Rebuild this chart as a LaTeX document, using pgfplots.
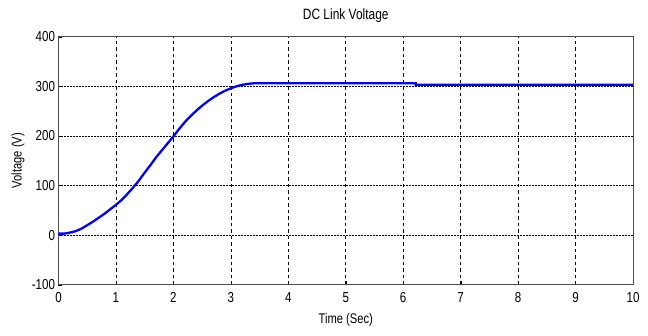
\documentclass[border=0pt]{standalone}
\usepackage{fontspec}
\setmainfont{Liberation Sans}[FakeStretch=0.8]
\usepackage{pgfplots}
\pgfplotsset{compat=1.18}
\begin{document}
\begin{tikzpicture}[x=1bp,y=1bp]
\begin{axis}[
  scale only axis,
  width=574.5bp, height=248bp,
  xmin=0, xmax=10, ymin=-100, ymax=400,
  xtick={0,1,...,10}, ytick={-100,0,...,400},
  /pgf/number format/assume math mode=true,
  tick label style={font=\fontsize{14.5}{14.5}\selectfont},
  title={DC Link Voltage},
  title style={font=\fontsize{15}{15}\selectfont, at={(axis description cs:0.5,1.045)}, anchor=base},
  xlabel={Time (Sec)}, ylabel={Voltage (V)},
  xlabel style={font=\fontsize{14}{14}\selectfont, at={(axis description cs:0.5,-0.1585)}, anchor=base},
  ylabel style={font=\fontsize{14}{14}\selectfont, at={(axis description cs:-0.064,0.5)}, anchor=base},
  grid=major,
  x grid style={black, dash pattern=on 3.5bp off 3bp, line width=0.6bp},
  y grid style={black, dash pattern=on 1.5bp off 1.5bp, line width=0.6bp},
  axis line style={black!70, line width=0.8bp},
  major tick length=4bp,
  tick style={black},
  tick align=inside,
  xtick pos=bottom, ytick pos=left,
  xticklabel style={yshift=-4.5bp},
  yticklabel style={xshift=0bp},
]
\addplot[blue, line width=2.3bp] coordinates {
(0,3) (0.1,3) (0.2,5) (0.3,8) (0.4,13) (0.5,20) (0.6,27) (0.7,35) (0.8,43) (0.9,52) (1.0,61) (1.1,71) (1.2,83) (1.3,96) (1.4,110) (1.5,126) (1.6,141) (1.7,157) (1.8,171) (1.9,185) (2.0,199) (2.1,214) (2.2,228) (2.3,240) (2.4,251) (2.5,261) (2.6,270) (2.7,278) (2.8,285) (2.9,291) (3.0,296) (3.1,300) (3.2,303) (3.3,305) (3.4,306)
(6.22,306) (6.22,303) (10,303)
};
\end{axis}
\path (current axis.south west) ++(-58.5bp,-51bp) coordinate (bl);
\path (current axis.north east) ++(15bp,36.7bp) coordinate (tr);
\useasboundingbox (bl) rectangle (tr);
\end{tikzpicture}
\end{document}
